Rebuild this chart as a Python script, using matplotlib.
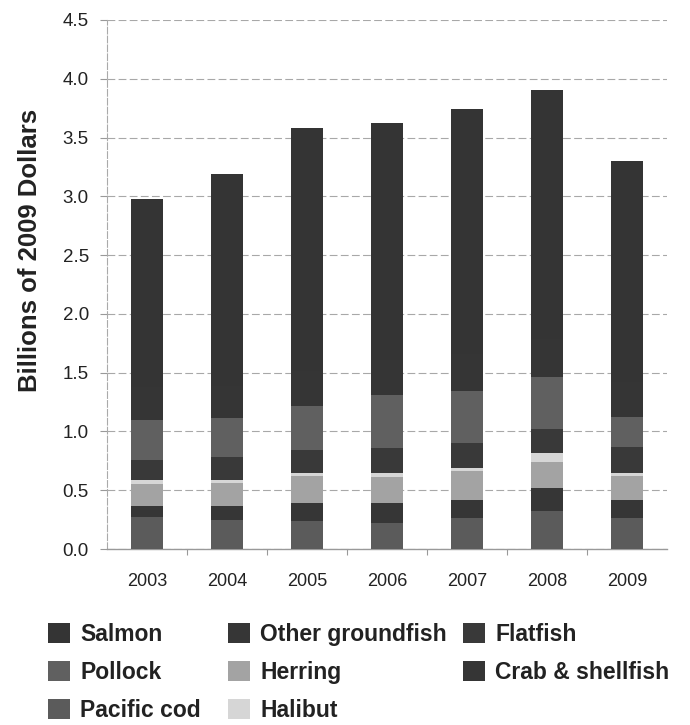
import matplotlib
matplotlib.use("Agg")
import matplotlib.pyplot as plt
import numpy as np

plt.rcParams['font.family'] = ['Liberation Sans', 'DejaVu Sans']

years = ["2003", "2004", "2005", "2006", "2007", "2008", "2009"]

# Stacked segments, bottom to top (billions of 2009 dollars)
pacific_cod      = [0.27, 0.245, 0.24, 0.22, 0.26, 0.32, 0.26]
other_groundfish = [0.095, 0.12, 0.15, 0.17, 0.16, 0.20, 0.155]
herring          = [0.19, 0.20, 0.23, 0.225, 0.245, 0.22, 0.205]
halibut          = [0.03, 0.025, 0.03, 0.035, 0.025, 0.075, 0.03]
flatfish         = [0.17, 0.19, 0.19, 0.21, 0.21, 0.205, 0.215]
pollock          = [0.34, 0.335, 0.38, 0.45, 0.445, 0.44, 0.255]
crab_shellfish   = [0.28, 0.27, 0.29, 0.30, 0.31, 0.33, 0.30]
salmon           = [1.60, 1.805, 2.07, 2.01, 2.085, 2.112, 1.88]

stack = [
    ("Pacific cod", pacific_cod, "#5b5b5b"),
    ("Other groundfish", other_groundfish, "#363636"),
    ("Herring", herring, "#a3a3a3"),
    ("Halibut", halibut, "#d6d6d6"),
    ("Flatfish", flatfish, "#393939"),
    ("Pollock", pollock, "#606060"),
    ("Crab & shellfish", crab_shellfish, "#353535"),
    ("Salmon", salmon, "#343434"),
]
legend_columns = [
    ["Salmon", "Pollock", "Pacific cod"],
    ["Other groundfish", "Herring", "Halibut"],
    ["Flatfish", "Crab & shellfish"],
]
legend_x = [48, 228, 463]

fig = plt.figure(figsize=(6.9, 7.25), dpi=100)
ax = fig.add_axes([107 / 690, 1 - 549 / 725, 560 / 690, 529 / 725])

x = np.arange(len(years))
bottom = np.zeros(len(years))
handles = {}
for name, vals, col in stack:
    v = np.array(vals)
    b = ax.bar(x, v, width=0.39, bottom=bottom, color=col, edgecolor='none',
               label=name, zorder=3)
    handles[name] = b
    bottom += v

ax.set_xlim(-0.5, len(years) - 0.5)
ax.set_ylim(0, 4.5)
ax.set_yticks(np.arange(0, 4.51, 0.5))
ax.set_yticklabels([f"{t:.1f}" for t in np.arange(0, 4.51, 0.5)])
ax.set_xticks(x)
ax.set_xticklabels(years)
ax.set_xticks(np.arange(0.5, len(years) - 0.5, 1.0), minor=True)

ax.tick_params(axis='y', length=5, width=0.8, color='#999999', pad=8,
               labelsize=13.5, labelcolor='#222222')
ax.tick_params(axis='x', which='major', length=0, pad=17,
               labelsize=13, labelcolor='#222222')
ax.tick_params(axis='x', which='minor', length=4, width=0.8, color='#999999')

ax.grid(axis='y', color='#a8a8a8', linestyle=(0, (7, 3)), linewidth=0.8, zorder=0)
for s in ['top', 'right']:
    ax.spines[s].set_visible(False)
ax.spines['left'].set_color('#aaaaaa')
ax.spines['left'].set_linestyle((0, (6, 2)))
ax.spines['left'].set_linewidth(0.8)
ax.spines['bottom'].set_color('#999999')
ax.spines['bottom'].set_linewidth(1.0)

fig.text(30 / 690, 1 - 250 / 725, "Billions of 2009 Dollars", rotation=90,
         ha='center', va='center', fontsize=18.5, fontweight='bold', color='#222222')

for names, lx in zip(legend_columns, legend_x):
    leg = fig.legend([handles[n] for n in names], names,
                     loc='upper left', bbox_to_anchor=(lx / 690, 1 - 623 / 725),
                     frameon=False, handlelength=0.95, handleheight=0.95,
                     handletextpad=0.45, labelspacing=0.66, borderpad=0,
                     borderaxespad=0,
                     prop={'size': 16.5, 'weight': 'bold'})
    for t in leg.get_texts():
        t.set_color('#222222')

fig.savefig("out.png", dpi=100, facecolor='white')
